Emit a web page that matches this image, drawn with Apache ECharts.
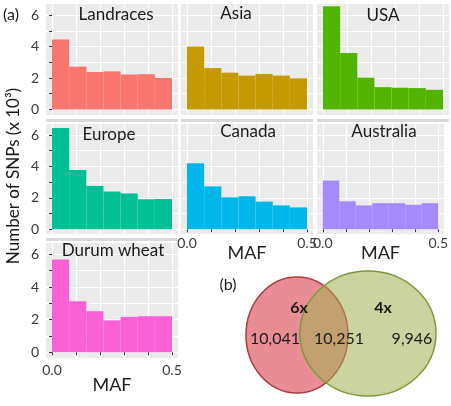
<!DOCTYPE html>
<html>
<head>
<meta charset="utf-8">
<script src="https://cdn.jsdelivr.net/npm/echarts@6/dist/echarts.min.js"></script>
<style>
html, body { margin: 0; padding: 0; background: #fff; }
#mainchart { width: 451px; height: 406px; }
</style>
</head>
<body>
<div id="mainchart"></div>
<script>
// data (number of SNPs, x 10^3, per MAF bin)
var panelNames = ['Landraces', 'Asia', 'USA', 'Europe', 'Canada', 'Australia', 'Durum wheat'];
var panelColors = ['#F8766D', '#C49A00', '#53B400', '#00C094', '#00B6EB', '#A58AFF', '#FB61D7'];
var binEdges = [0, 0.0714, 0.1429, 0.2143, 0.2857, 0.3571, 0.4286, 0.5];
var landraces = [4.45, 2.72, 2.38, 2.42, 2.22, 2.24, 2.0];
var asia = [4.0, 2.63, 2.34, 2.15, 2.25, 2.15, 1.98];
var usa = [6.55, 3.58, 2.02, 1.42, 1.38, 1.36, 1.25];
var europe = [6.45, 3.78, 2.76, 2.4, 2.28, 1.91, 1.93];
var canada = [4.2, 2.73, 2.03, 2.1, 1.76, 1.52, 1.39];
var australia = [3.1, 1.78, 1.52, 1.66, 1.66, 1.56, 1.66];
var durum = [5.69, 3.13, 2.52, 1.96, 2.17, 2.21, 2.21];
var panelValues = [landraces, asia, usa, europe, canada, australia, durum];

var yTicks = [0, 1, 2, 3, 4, 5, 6];
var yLabels = [0, 2, 4, 6];
var xTicks = [0, 0.1, 0.2, 0.3, 0.4, 0.5];
var xLabels = [0, 0.5];

var vennSets = ['6x', '4x'];
var vennCounts = [10041, 10251, 9946];

var FONT = 'Lato, "Open Sans", sans-serif';

var myChart = echarts.init(document.getElementById('mainchart'));

// panel layout (facet grid)
var colLeft = [46, 181, 317];
var rowTop = [4, 124, 243];
var rowHeight = [111, 110, 115];
var rowMin = [-0.35, -0.3, -0.35];
var panelRow = [0, 0, 0, 1, 1, 1, 2];
var panelCol = [0, 1, 2, 0, 1, 2, 0];
var showX = [false, false, false, false, true, true, true];
var xLabelMargin = [0, 0, 0, 0, 2, 2, 5];
var stripPos = [[116, 15], [236, 14], [383, 16], [109, 135], [248, 132], [384, 132], [113, 251]];

function renderBin(params, api) {
    var topLeft = api.coord([api.value(0), api.value(2)]);
    var bottomRight = api.coord([api.value(1), 0]);
    return {
        type: 'rect',
        shape: {
            x: topLeft[0],
            y: topLeft[1],
            width: bottomRight[0] - topLeft[0],
            height: bottomRight[1] - topLeft[1]
        },
        style: { fill: api.visual('color') }
    };
}

var grids = [], xAxes = [], yAxes = [], series = [], graphics = [];

panelNames.forEach(function(name, i) {
    var r = panelRow[i], c = panelCol[i];
    grids.push({
        left: colLeft[c], top: rowTop[r], width: 132, height: rowHeight[r],
        show: true, backgroundColor: '#EBEBEB', borderWidth: 0
    });
    xAxes.push({
        type: 'value', gridIndex: i, min: -0.025, max: 0.525,
        axisLine: { show: false },
        axisTick: { show: showX[i], customValues: xTicks, length: 3, lineStyle: { color: '#333' } },
        axisLabel: {
            show: showX[i], customValues: xLabels, margin: xLabelMargin[i],
            fontSize: 14, color: '#3a3a3a', fontFamily: FONT,
            formatter: function(v) { return v.toFixed(1); }
        },
        splitLine: { show: true, lineStyle: { color: '#fff', width: 1.2 } },
        name: showX[i] ? 'MAF' : '', nameLocation: 'middle', nameMoveOverlap: false,
        nameGap: showX[i] ? (i === 6 ? 18 : 10) : 0,
        nameTextStyle: { fontSize: 18, color: '#222', fontFamily: FONT }
    });
    yAxes.push({
        type: 'value', gridIndex: i, min: rowMin[r], max: 6.7,
        axisLine: { show: false },
        axisTick: { show: c === 0, customValues: yTicks, length: 3, lineStyle: { color: '#333' } },
        axisLabel: {
            show: c === 0, customValues: yLabels, margin: 7,
            fontSize: 14, color: '#3a3a3a', fontFamily: FONT
        },
        splitLine: { show: true, lineStyle: { color: '#fff', width: 1.2 } }
    });
    var bins = panelValues[i].map(function(v, k) {
        return [binEdges[k], binEdges[k + 1], v];
    });
    series.push({
        type: 'custom', name: name, xAxisIndex: i, yAxisIndex: i,
        renderItem: renderBin, clip: true,
        itemStyle: { color: panelColors[i] },
        encode: { x: [0, 1], y: 2 },
        data: bins
    });
    if (r > 0) {
        graphics.push({
            type: 'rect', silent: true,
            shape: { x: colLeft[c], y: rowTop[r] - 5, width: 132, height: 3 },
            style: { fill: '#D9D9D9' }
        });
    }
    graphics.push({
        type: 'text', x: stripPos[i][0], y: stripPos[i][1], z: 10,
        style: {
            text: name, align: 'center', verticalAlign: 'middle',
            font: '17px ' + FONT, fill: '#1a1a1a'
        }
    });
});

// panel labels and y title
graphics.push({
    type: 'text', x: 11, y: 15,
    style: { text: '(a)', align: 'center', verticalAlign: 'middle', font: '16px ' + FONT, fill: '#1a1a1a' }
});
graphics.push({
    type: 'text', x: 14, y: 176, rotation: Math.PI / 2,
    style: { text: 'Number of SNPs (x 10³)', align: 'center', verticalAlign: 'middle', font: '17px ' + FONT, fill: '#1a1a1a' }
});
graphics.push({
    type: 'text', x: 228, y: 285,
    style: { text: '(b)', align: 'center', verticalAlign: 'middle', font: '16px ' + FONT, fill: '#1a1a1a' }
});

// venn diagram (b)
graphics.push({
    type: 'ellipse',
    shape: { cx: 297, cy: 335, rx: 51, ry: 58 },
    style: { fill: 'rgba(220,80,90,0.65)', stroke: '#B03A3E', lineWidth: 1.5 }
});
graphics.push({
    type: 'ellipse',
    shape: { cx: 368, cy: 333.5, rx: 68, ry: 62.5 },
    style: { fill: 'rgba(160,175,80,0.55)', stroke: '#7F9A3C', lineWidth: 1.5 }
});
var setPos = [[299, 308], [383, 308]];
vennSets.forEach(function(s, k) {
    graphics.push({
        type: 'text', x: setPos[k][0], y: setPos[k][1],
        style: { text: s, align: 'center', verticalAlign: 'middle', font: 'bold 16px ' + FONT, fill: '#1a1a1a' }
    });
});
var countPos = [[275, 339], [339, 339], [412, 339]];
vennCounts.forEach(function(n, k) {
    graphics.push({
        type: 'text', x: countPos[k][0], y: countPos[k][1],
        style: { text: n.toLocaleString('en-US'), align: 'center', verticalAlign: 'middle', font: '16px ' + FONT, fill: '#1a1a1a' }
    });
});

var option = {
    backgroundColor: '#fff',
    animation: false,
    grid: grids,
    xAxis: xAxes,
    yAxis: yAxes,
    series: series,
    graphic: { elements: graphics }
};
myChart.setOption(option);
</script>
</body>
</html>
